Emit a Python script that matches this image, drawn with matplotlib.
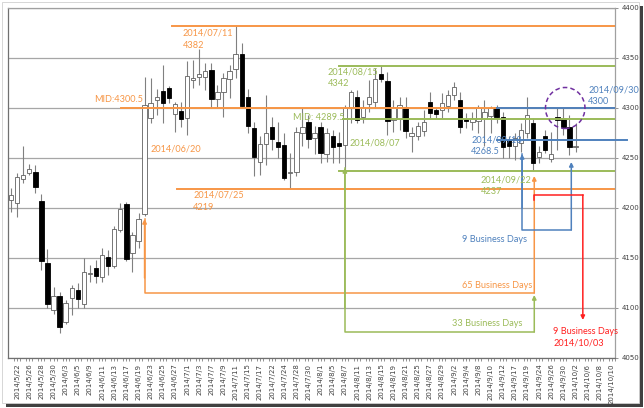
import numpy as np
import matplotlib.pyplot as plt
from matplotlib.patches import Ellipse, Rectangle

# --- daily candles (2014/5/21 .. 2014/10/10 axis, data up to 10/2) ---
dates = ['5/21', '5/22', '5/23', '5/26', '5/27', '5/28', '5/29', '5/30',
         '6/2', '6/3', '6/4', '6/5', '6/6', '6/9', '6/10', '6/11', '6/12', '6/13',
         '6/16', '6/17', '6/18', '6/19', '6/20', '6/23', '6/24', '6/25', '6/26', '6/27',
         '6/30', '7/1', '7/2', '7/3', '7/4', '7/7', '7/8', '7/9', '7/10', '7/11',
         '7/14', '7/15', '7/16', '7/17', '7/18', '7/22', '7/23', '7/24', '7/25',
         '7/28', '7/29', '7/30', '7/31', '8/1', '8/4', '8/5', '8/6', '8/7', '8/8',
         '8/11', '8/12', '8/13', '8/14', '8/15', '8/18', '8/19', '8/20', '8/21', '8/22',
         '8/25', '8/26', '8/27', '8/28', '8/29', '9/1', '9/2', '9/3', '9/4', '9/5',
         '9/8', '9/9', '9/10', '9/11', '9/12', '9/16', '9/17', '9/18', '9/19',
         '9/22', '9/24', '9/25', '9/26', '9/29', '9/30', '10/1', '10/2', '10/3',
         '10/6', '10/7', '10/8', '10/9', '10/10']

opens = [4208, 4205, 4229, 4235, 4236, 4207, 4145, 4098, 4112, 4086, 4110, 4118, 4104, 4134,
         4140, 4131, 4151, 4142, 4178, 4204, 4155, 4167, 4194, 4290, 4308, 4317, 4320, 4294,
         4297, 4290, 4328, 4331, 4331, 4338, 4309, 4316, 4329, 4339, 4354, 4311, 4280, 4246,
         4264, 4281, 4266, 4263, 4235, 4236, 4275, 4286, 4270, 4281, 4254, 4272, 4265, 4263,
         4300, 4311, 4291, 4304, 4306, 4334, 4327, 4288, 4289, 4301, 4272, 4272, 4277, 4306,
         4298, 4298, 4302, 4313, 4308, 4289, 4286, 4287, 4290, 4292, 4301, 4291, 4268, 4262,
         4265, 4275, 4285, 4251, 4272, 4249, 4291, 4290, 4281, 4261]
highs = [4220, 4235, 4262, 4244, 4243, 4214, 4159, 4121, 4116, 4108, 4123, 4125, 4150, 4143,
         4148, 4160, 4158, 4182, 4205, 4206, 4176, 4195, 4331, 4330, 4319, 4343, 4322, 4306,
         4306, 4347, 4348, 4359, 4345, 4345, 4323, 4335, 4343, 4382, 4365, 4319, 4286, 4272,
         4313, 4291, 4286, 4275, 4255, 4281, 4300, 4293, 4282, 4286, 4280, 4278, 4276, 4303,
         4318, 4318, 4308, 4328, 4340, 4342, 4336, 4308, 4311, 4311, 4281, 4286, 4298, 4316,
         4300, 4315, 4318, 4326, 4316, 4295, 4296, 4303, 4308, 4302, 4303, 4296, 4272, 4275,
         4285, 4311, 4290, 4262, 4278, 4276, 4300, 4300, 4293, 4285]
lows = [4196, 4191, 4225, 4233, 4215, 4138, 4100, 4094, 4075, 4084, 4093, 4100, 4100, 4126,
        4125, 4126, 4133, 4140, 4176, 4147, 4136, 4160, 4192, 4285, 4293, 4285, 4305, 4276,
        4281, 4273, 4320, 4323, 4318, 4300, 4300, 4291, 4310, 4330, 4300, 4275, 4232, 4233,
        4243, 4258, 4250, 4228, 4219, 4232, 4262, 4260, 4254, 4245, 4246, 4245, 4245, 4237,
        4285, 4285, 4285, 4296, 4300, 4326, 4273, 4276, 4278, 4270, 4256, 4268, 4272, 4290,
        4290, 4290, 4296, 4308, 4275, 4280, 4278, 4275, 4262, 4275, 4285, 4250, 4250, 4248,
        4256, 4270, 4237, 4245, 4255, 4246, 4258, 4273, 4253, 4256]
closes = [4213, 4231, 4233, 4239, 4221, 4147, 4104, 4112, 4081, 4105, 4120, 4109, 4136, 4135,
          4132, 4153, 4142, 4179, 4199, 4149, 4173, 4189, 4303, 4305, 4311, 4305, 4310, 4304,
          4289, 4332, 4330, 4334, 4337, 4309, 4316, 4330, 4337, 4354, 4302, 4282, 4251, 4264,
          4275, 4269, 4261, 4230, 4236, 4276, 4281, 4269, 4275, 4255, 4275, 4261, 4262, 4300,
          4316, 4288, 4301, 4311, 4329, 4329, 4287, 4301, 4303, 4277, 4275, 4282, 4286, 4295,
          4294, 4305, 4313, 4321, 4281, 4287, 4290, 4300, 4296, 4300, 4291, 4261, 4262, 4270,
          4278, 4293, 4245, 4256, 4258, 4254, 4288, 4281, 4261, 4262]

# levels drawn on the chart
orange_hi, orange_lo, orange_mid = 4382, 4219, 4300.5
green_hi, green_lo, green_mid = 4342, 4237, 4289.5
blue_hi, blue_mid = 4300, 4268.5

ORANGE = '#F79646'
GREEN = '#9BBB59'
BLUE = '#4F81BD'
RED = '#FF2020'
PURPLE = '#7030A0'
FONT = 'Lato'

fig = plt.figure(figsize=(6.44, 4.08), dpi=100)

# outer chart frame with a shadow
fig.patches.append(Rectangle((6 / 644, 1 / 408), 637 / 644, 401 / 408, transform=fig.transFigure,
                             facecolor='#404040', edgecolor='none', zorder=-3))
fig.patches.append(Rectangle((2 / 644, 5 / 408), 637 / 644, 401 / 408, transform=fig.transFigure,
                             facecolor='white', edgecolor='#d0d0d0', lw=0.6, zorder=-2))

ax = fig.add_axes([8 / 644, 1 - 358 / 408, 607 / 644, 350 / 408])
ax.set_facecolor('none')

x = np.arange(len(opens))
o = np.array(opens)
c = np.array(closes)
up = c >= o

ax.vlines(x, lows, highs, color='#808080', lw=0.8, zorder=2)
ax.bar(x[up], (c - o)[up], bottom=o[up], width=0.72, color='white', edgecolor='#606060',
       lw=0.6, zorder=3)
ax.bar(x[~up], (c - o)[~up], bottom=o[~up], width=0.72, color='black', edgecolor='black',
       lw=0.6, zorder=3)

ax.set_xlim(-0.5, len(dates) - 0.5)
ax.set_ylim(4050, 4400)
ax.set_yticks(np.arange(4050, 4401, 50))
ax.yaxis.tick_right()
ax.grid(axis='y', color='#a6a6a6', lw=0.9, zorder=0)
ax.set_axisbelow(True)
tick_pos = x_all = np.arange(1, len(dates), 2)
ax.set_xticks(tick_pos)
ax.set_xticklabels(['2014/' + dates[i] for i in tick_pos], rotation=90, fontsize=5,
                   color='#404040')
ax.set_xticks(np.arange(len(dates)) + 0.5, minor=True)
ax.tick_params(axis='x', which='both', length=2, width=0.6, color='#808080', pad=2)
ax.tick_params(axis='y', length=2, width=0.6, color='#808080', labelsize=5,
               labelcolor='#404040', pad=3)
for s in ax.spines.values():
    s.set_color('#a0a0a0')
    s.set_linewidth(0.9)
ax.spines['left'].set_color('#707070')
ax.spines['bottom'].set_color('#707070')

xr = len(dates) - 0.5
Z = 6


def hline(y, x0, x1, color, lw=1.4, clip=True):
    ax.plot([x0, x1], [y, y], color=color, lw=lw, zorder=Z, clip_on=clip)


def arrow(x0, y0, x1, y1, color):
    ax.annotate('', xy=(x1, y1), xytext=(x0, y0),
                arrowprops=dict(arrowstyle='-|>', color=color, lw=1.1, mutation_scale=6,
                                shrinkA=0, shrinkB=0), zorder=Z)


def label(xp, yp, s, color, ha='left'):
    ax.text(xp, yp, s, color=color, fontsize=6.6, family=FONT, ha=ha, va='center',
            zorder=Z + 1, clip_on=False)


# orange: 7/11 high, 7/25 low and their mid
hline(orange_hi, 26.6, xr, ORANGE)
hline(orange_lo, 27.3, xr, ORANGE)
hline(orange_mid, 18.1, xr, ORANGE)
label(28.3, 4375, '2014/07/11', ORANGE)
label(28.3, 4363, str(orange_hi), ORANGE)
label(30.0, 4213, '2014/07/25', ORANGE)
label(30.0, 4201, str(orange_lo), ORANGE)
label(21.7, 4308, 'MID:4300.5', ORANGE, ha='right')
label(22.9, 4259, '2014/06/20', ORANGE)
ax.plot([22, 22, 86.2], [4189, 4115, 4115], color=ORANGE, lw=1.1, zorder=Z)
arrow(22, 4130, 22, 4189, ORANGE)
arrow(86.2, 4115, 86.2, 4232, ORANGE)
label(85.8, 4123, '65 Business Days', ORANGE, ha='right')

# green: 8/15 high, 8/07 low and their mid
hline(green_hi, 54.1, xr, GREEN)
hline(green_lo, 54.1, xr, GREEN)
hline(green_mid, 54.7, xr, GREEN)
label(52.2, 4336, '2014/08/15', GREEN)
label(52.2, 4325, str(green_hi), GREEN)
label(46.4, 4290, 'MID: 4289.5', GREEN)
label(55.8, 4265, '2014/08/07', GREEN)
label(77.4, 4228, '2014/09/22', GREEN)
label(77.4, 4216, str(green_lo), GREEN)
ax.plot([55, 55, 86.2], [4240, 4076, 4076], color=GREEN, lw=1.1, zorder=Z)
arrow(55, 4100, 55, 4240, GREEN)
arrow(86.2, 4076, 86.2, 4113, GREEN)
label(84.3, 4085, '33 Business Days', GREEN, ha='right')

# blue: 9/30 level and mid
hline(blue_hi, 80, xr, BLUE)
hline(blue_mid, 80, 101.5, BLUE, clip=False)
label(95.1, 4318, '2014/09/30', BLUE)
label(95.1, 4306, str(blue_hi), BLUE)
label(75.8, 4268, '2014/09/18', BLUE)
label(75.8, 4256, str(blue_mid), BLUE)
ax.plot([84.2, 84.2, 92.3], [4254, 4178, 4178], color=BLUE, lw=1.1, zorder=Z)
arrow(84.2, 4200, 84.2, 4254, BLUE)
arrow(92.3, 4178, 92.3, 4246, BLUE)
label(74.3, 4168, '9 Business Days', BLUE)

# red: projection to 10/03
ax.plot([86.2, 86.2, 94.2], [4208, 4213, 4213], color=RED, lw=1.1, zorder=Z)
arrow(94.2, 4213, 94.2, 4088, RED)
label(89.3, 4077, '9 Business Days', RED)
label(89.3, 4065, '2014/10/03', RED)

# dashed circle
ax.add_patch(Ellipse((91.3, 4300), 6.5, 41, fill=False, edgecolor=PURPLE, lw=1.1,
                     linestyle=(0, (3, 2)), zorder=Z + 1))

fig.savefig('out.png', dpi=100)
